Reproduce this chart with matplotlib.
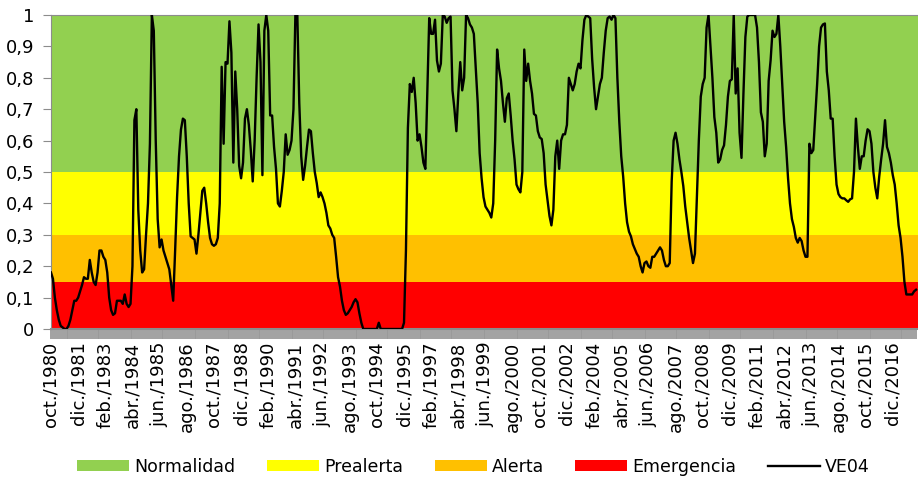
# Standard libraries
import numpy as np
import matplotlib
matplotlib.use('Agg')
import matplotlib.pyplot as plt

# Monthly index values VE04, starting oct./1980
ve04_1980_1986 = [
    0.18, 0.16, 0.10, 0.06, 0.03, 0.01, 0.005, 0.0, 0.0, 0.01,
    0.03, 0.06, 0.09, 0.09, 0.10, 0.12, 0.14, 0.165, 0.16, 0.16,
    0.22, 0.18, 0.15, 0.14, 0.18, 0.25, 0.25, 0.23, 0.22, 0.18,
    0.10, 0.06, 0.045, 0.05, 0.09, 0.09, 0.09, 0.08, 0.11, 0.08,
    0.07, 0.08, 0.20, 0.665, 0.70, 0.38, 0.25, 0.18, 0.19, 0.30,
    0.40, 0.59, 1.0, 0.95, 0.60, 0.35, 0.26, 0.285, 0.25, 0.23,
    0.21, 0.19, 0.14, 0.09, 0.25, 0.42, 0.55, 0.635, 0.67, 0.665,
    0.55, 0.40, 0.295, 0.29, 0.285]
ve04_1987_1993 = [
    0.24, 0.30, 0.37, 0.44, 0.45, 0.40, 0.34, 0.29, 0.27, 0.265,
    0.27, 0.29, 0.40, 0.835, 0.59, 0.85, 0.845, 0.98, 0.88, 0.53,
    0.82, 0.70, 0.52, 0.48, 0.53, 0.67, 0.70, 0.65, 0.57, 0.47,
    0.60, 0.80, 0.97, 0.85, 0.49, 0.95, 1.0, 0.95, 0.68, 0.68,
    0.58, 0.51, 0.40, 0.39, 0.44, 0.50, 0.62, 0.555, 0.57, 0.60,
    0.70, 1.0, 1.0, 0.72, 0.55, 0.475, 0.52, 0.58, 0.635, 0.63,
    0.56, 0.50, 0.465, 0.42, 0.435, 0.42, 0.40, 0.37, 0.33, 0.32,
    0.30, 0.29, 0.23, 0.165]
ve04_1993_1999 = [
    0.135, 0.09, 0.06, 0.045, 0.05, 0.06, 0.07, 0.085, 0.095, 0.085,
    0.05, 0.02, 0.0, 0.0, 0.0, 0.0, 0.0, 0.0, 0.0, 0.0,
    0.02, 0.0, 0.0, 0.0, 0.0, 0.0, 0.0, 0.0, 0.0, 0.0,
    0.0, 0.0, 0.0, 0.02, 0.25, 0.64, 0.78, 0.755, 0.80, 0.72,
    0.60, 0.62, 0.58, 0.53, 0.51, 0.75, 0.99, 0.94, 0.94, 0.985,
    0.855, 0.82, 0.845, 1.0, 0.995, 0.975, 0.99, 0.995, 0.76, 0.70,
    0.63, 0.75, 0.85, 0.76, 0.80, 1.0, 0.99, 0.97, 0.96, 0.94,
    0.83, 0.72, 0.56, 0.48]
ve04_1999_2005 = [
    0.42, 0.39, 0.38, 0.37, 0.355, 0.40, 0.60, 0.89, 0.83, 0.79,
    0.72, 0.66, 0.735, 0.75, 0.68, 0.60, 0.54, 0.46, 0.445, 0.435,
    0.50, 0.89, 0.79, 0.845, 0.79, 0.75, 0.685, 0.68, 0.63, 0.61,
    0.605, 0.56, 0.46, 0.41, 0.36, 0.33, 0.38, 0.55, 0.60, 0.51,
    0.60, 0.62, 0.62, 0.65, 0.80, 0.78, 0.76, 0.78, 0.82, 0.845,
    0.83, 0.92, 0.985, 1.0, 0.995, 0.99, 0.86, 0.77, 0.70, 0.74,
    0.78, 0.80, 0.88, 0.95, 0.99, 0.995, 0.985, 1.0, 0.99, 0.80,
    0.66, 0.55, 0.485, 0.40, 0.34, 0.31]
ve04_2005_2011 = [
    0.295, 0.27, 0.255, 0.24, 0.23, 0.20, 0.18, 0.21, 0.215, 0.20,
    0.195, 0.23, 0.23, 0.24, 0.25, 0.26, 0.25, 0.22, 0.20, 0.20,
    0.21, 0.47, 0.60, 0.625, 0.59, 0.54, 0.50, 0.455, 0.39, 0.34,
    0.29, 0.25, 0.21, 0.24, 0.42, 0.60, 0.74, 0.78, 0.80, 0.96,
    1.0, 0.90, 0.80, 0.675, 0.625, 0.53, 0.54, 0.57, 0.585, 0.65,
    0.74, 0.79, 0.795, 1.0, 0.75, 0.83, 0.625, 0.545, 0.75, 0.93,
    0.995, 1.0, 1.0, 1.0, 1.0, 0.96, 0.85, 0.69, 0.66, 0.55,
    0.59, 0.79, 0.855, 0.95]
ve04_2011_2017 = [
    0.93, 0.94, 1.0, 0.90, 0.78, 0.66, 0.58, 0.48, 0.40, 0.35,
    0.325, 0.29, 0.275, 0.29, 0.28, 0.25, 0.23, 0.23, 0.59, 0.56,
    0.57, 0.675, 0.78, 0.90, 0.96, 0.97, 0.973, 0.82, 0.76, 0.67,
    0.67, 0.55, 0.46, 0.43, 0.42, 0.416, 0.416, 0.41, 0.405, 0.413,
    0.416, 0.50, 0.67, 0.58, 0.51, 0.55, 0.55, 0.60, 0.636, 0.63,
    0.59, 0.50, 0.45, 0.416, 0.485, 0.54, 0.59, 0.665, 0.58, 0.56,
    0.53, 0.49, 0.46, 0.40, 0.33, 0.29, 0.23, 0.15, 0.11, 0.11,
    0.11, 0.11, 0.12, 0.125]

# Threshold bands (lower, upper) and their names
band_names = ['Normalidad', 'Prealerta', 'Alerta', 'Emergencia']
band_limits = [(0.5, 1.0), (0.3, 0.5), (0.15, 0.3), (0.0, 0.15)]
band_colors = ['#92D050', '#FFFF00', '#FFC000', '#FF0000']

# Tick labels every 14 months
tick_step = 14
tick_labels = [
    'oct./1980', 'dic./1981', 'feb./1983', 'abr./1984', 'jun./1985',
    'ago./1986', 'oct./1987', 'dic./1988', 'feb./1990', 'abr./1991',
    'jun./1992', 'ago./1993', 'oct./1994', 'dic./1995', 'feb./1997',
    'abr./1998', 'jun./1999', 'ago./2000', 'oct./2001', 'dic./2002',
    'feb./2004', 'abr./2005', 'jun./2006', 'ago./2007', 'oct./2008',
    'dic./2009', 'feb./2011', 'abr./2012', 'jun./2013', 'ago./2014',
    'oct./2015', 'dic./2016']

ve04 = np.array(ve04_1980_1986 + ve04_1987_1993 + ve04_1993_1999
                + ve04_1999_2005 + ve04_2005_2011 + ve04_2011_2017)
months = np.arange(len(ve04))

fig = plt.figure(figsize=(9.18, 4.82), dpi=100)
ax = fig.add_axes([51 / 918, 1 - 329 / 482, 867 / 918, 314 / 482])

# Background bands
handles = []
for name, (lo, hi), col in zip(band_names, band_limits, band_colors):
    handles.append(ax.axhspan(lo, hi, color=col, lw=0, label=name, zorder=0))

line, = ax.plot(months, ve04, color='black', lw=1.7, solid_joinstyle='round',
                label='VE04', zorder=3)
handles.append(line)

ax.set_xlim(0, 447)
ax.set_ylim(0, 1)

# Y axis
ax.set_yticks(np.arange(0, 1.01, 0.1))
ax.set_yticklabels(['0', '0,1', '0,2', '0,3', '0,4', '0,5',
                    '0,6', '0,7', '0,8', '0,9', '1'], fontsize=13)
ax.tick_params(axis='y', length=6, color='#8C8C8C', pad=6)

# X axis: labels every 14 months, a tick per month (gives the grey band)
ax.set_xticks(months[::tick_step][:len(tick_labels)])
ax.set_xticklabels(tick_labels, rotation=90, fontsize=13)
ax.set_xticks(months, minor=True)
ax.tick_params(axis='x', which='both', length=7, color='#9A9A9A', width=1.3, pad=2)

for side in ['left', 'bottom', 'top']:
    ax.spines[side].set_color('#8C8C8C')
ax.spines['bottom'].set_linewidth(1.5)
ax.spines['right'].set_visible(False)

fig.legend(handles=handles, loc='center', bbox_to_anchor=(0.516, 0.031),
           ncol=5, frameon=False, fontsize=12.5, handlelength=3.0,
           handleheight=0.6, handletextpad=0.3, columnspacing=1.8)

fig.savefig('out.png', dpi=100)
